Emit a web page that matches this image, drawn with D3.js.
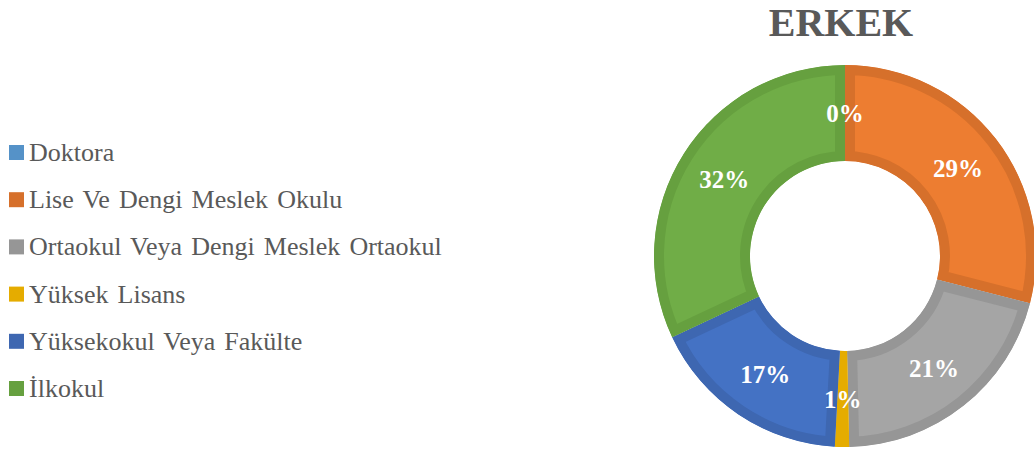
<!DOCTYPE html>
<html>
<head>
<meta charset="utf-8">
<script src="https://cdn.jsdelivr.net/npm/d3@7"></script>
<style>
body { margin:0; background:#fff; }
</style>
</head>
<body>
<svg id="chart" width="1034" height="452"></svg>
<script>
// values (percent shares)
var categories = ["Doktora", "Lise Ve Dengi Meslek Okulu", "Ortaokul Veya Dengi Meslek Ortaokul",
                  "Yüksek Lisans", "Yüksekokul Veya Fakülte", "İlkokul"]
var shares = [0, 28.9, 20.6, 1.2, 17.1, 31.9]
var labels = ["0%", "29%", "21%", "1%", "17%", "32%"]
var fills = ["#5B9BD5", "#ED7D31", "#A5A5A5", "#FFC000", "#4472C4", "#70AD47"]
var edges = ["#5592C8", "#D6702B", "#969696", "#E5AC00", "#3E67B1", "#66A03F"]

var serif = "'Liberation Serif', Tinos, 'Times New Roman', 'DejaVu Serif', serif"

var svg = d3.select("#chart")

var cx = 845, cy = 256
var outerR = 191, innerR = 95, band = 10

svg.append("text")
   .attr("x", 841).attr("y", 36)
   .attr("text-anchor", "middle")
   .style("font-family", serif)
   .attr("font-size", "40px").attr("font-weight", "bold")
   .attr("fill", "#595959")
   .text("ERKEK")

var data = categories.map(function(c, i) { return {name:c, value:shares[i], label:labels[i], fill:fills[i], edge:edges[i]} })

var pie = d3.pie().sort(null).value(function(d) { return d.value })
var arc = d3.arc().innerRadius(innerR).outerRadius(outerR)
var labelArc = d3.arc().innerRadius(143).outerRadius(143)

var g = svg.append("g").attr("transform", "translate(" + cx + "," + cy + ")")
var defs = svg.append("defs")
var slices = pie(data)

// clip each slice to itself so the wide stroke only shows as an inner band
slices.forEach(function(s, i) {
  defs.append("clipPath").attr("id", "clip" + i)
      .append("path").attr("d", arc(s))
})

g.selectAll("path.slice")
  .data(slices)
  .enter().append("path")
    .attr("class", "slice")
    .attr("d", arc)
    .attr("fill", function(d) { return d.data.fill })
    .attr("stroke", function(d) { return d.data.edge })
    .attr("stroke-width", band * 2)
    .attr("clip-path", function(d, i) { return "url(#clip" + i + ")" })

g.selectAll("text.lbl")
  .data(slices)
  .enter().append("text")
    .attr("class", "lbl")
    .attr("transform", function(d) { return "translate(" + labelArc.centroid(d) + ")" })
    .attr("text-anchor", "middle")
    .attr("dy", "0.35em")
    .style("font-family", serif)
    .attr("font-size", "25px").attr("font-weight", "bold")
    .attr("fill", "#fff")
    .text(function(d) { return d.data.label })

var legend = svg.append("g")
var rowY = d3.scalePoint().domain(categories).range([152, 388])

var item = legend.selectAll("g")
  .data(data)
  .enter().append("g")
    .attr("transform", function(d) { return "translate(0," + rowY(d.name) + ")" })

item.append("rect")
    .attr("x", 9).attr("y", -7).attr("width", 15).attr("height", 15)
    .attr("fill", function(d) { return d.edge })

item.append("text")
    .attr("x", 29).attr("y", 9)
    .style("font-family", serif)
    .style("word-spacing", "2.6px")
    .attr("font-size", "26px")
    .attr("fill", "#595959")
    .text(function(d) { return d.name })
</script>
</body>
</html>
